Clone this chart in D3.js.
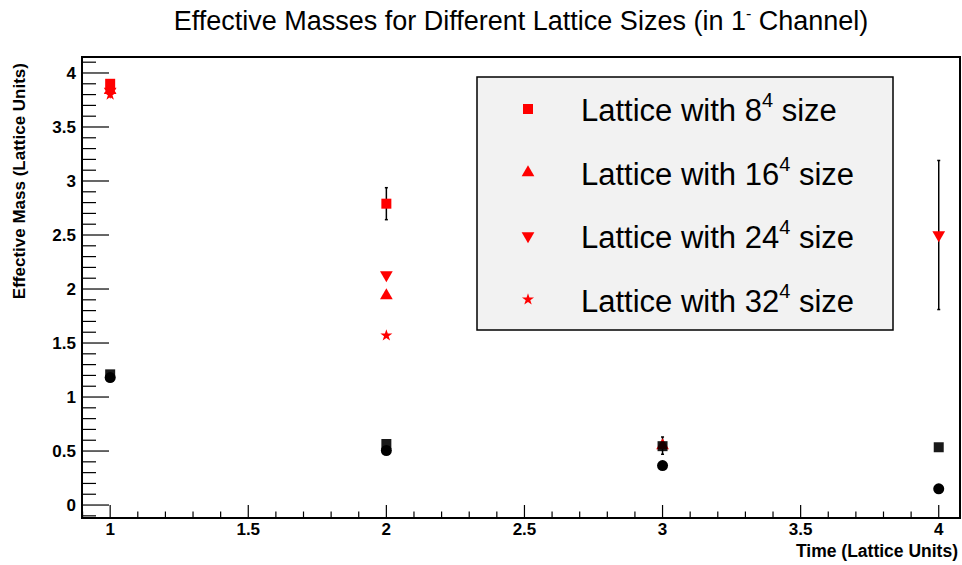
<!DOCTYPE html>
<html><head><meta charset="utf-8">
<script src="https://cdn.jsdelivr.net/npm/d3@7"></script>
<style>body{margin:0;background:#fff}svg{display:block}text{font-family:"Liberation Sans",Arial,sans-serif}</style>
</head><body><svg id="c" width="962" height="565"></svg>
<script>
const times = [1, 2, 3, 4];
const legendLabels = ["8", "16", "24", "32"];
const xTicks = [1, 1.5, 2, 2.5, 3, 3.5, 4];
const yTicks = [0, 0.5, 1, 1.5, 2, 2.5, 3, 3.5, 4];
// red series (null = not shown)
const mass8  = [3.90, 2.79, null, null];
const err8   = [0, 0.148, 0, 0];
const mass16 = [3.84, 1.94, 0.55, null];
const err16  = [0, 0, 0.08, 0];
const mass24 = [3.83, 2.13, null, 2.50];
const err24  = [0, 0, 0, 0.69];
const mass32 = [3.80, 1.57, null, null];
const err32  = [0, 0, 0, 0];
// black series
const blackSq  = [1.21, 0.565, 0.545, 0.535];
const blackCir = [1.18, 0.505, 0.365, 0.15];

const svg = d3.select("#c");
const L = 82, R = 960, T = 57, B = 518;
const x = d3.scaleLinear().domain([0.898, 4.077]).range([L, R]);
const y = d3.scaleLinear().domain([-0.12, 4.148]).range([B, T]);

// frame
svg.append("rect").attr("x", L).attr("y", T).attr("width", R - L).attr("height", B - T)
  .attr("fill", "none").attr("stroke", "#000").attr("stroke-width", 2);

// y ticks
const yMinor = d3.range(-1, 42).map(i => i / 10).filter(v => v >= -0.12 && v <= 4.148);
svg.append("g").selectAll("line").data(yMinor).join("line")
  .attr("x1", L).attr("x2", d => L + (Math.abs(d * 2 - Math.round(d * 2)) < 1e-6 ? 27 : 14))
  .attr("y1", d => y(d)).attr("y2", d => y(d)).attr("stroke", "#000").attr("stroke-width", 1.2);
svg.append("g").selectAll("text").data(yTicks).join("text")
  .attr("x", L - 6).attr("y", d => y(d) + 6).attr("text-anchor", "end")
  .attr("font-size", 17).attr("font-weight", "bold").text(d => d);

// x ticks
const xMinor = d3.range(9, 41).map(i => i / 10);
svg.append("g").selectAll("line").data(xMinor).join("line")
  .attr("x1", d => x(d)).attr("x2", d => x(d))
  .attr("y1", B).attr("y2", d => B - (Math.abs(d * 2 - Math.round(d * 2)) < 1e-6 ? 13 : 6.5))
  .attr("stroke", "#000").attr("stroke-width", 1.2);
svg.append("g").selectAll("text").data(xTicks).join("text")
  .attr("x", d => x(d)).attr("y", 535).attr("text-anchor", "middle")
  .attr("font-size", 17).attr("font-weight", "bold").text(d => d);

// axis titles
svg.append("text").attr("x", 958).attr("y", 557).attr("text-anchor", "end")
  .attr("font-size", 17.5).attr("font-weight", "bold").text("Time (Lattice Units)");
svg.append("text").attr("transform", "translate(25,63) rotate(-90)").attr("text-anchor", "end")
  .attr("font-size", 17).attr("font-weight", "bold").text("Effective Mass (Lattice Units)");

// title
const title = svg.append("text").attr("x", 521).attr("y", 30).attr("text-anchor", "middle").attr("font-size", 27);
title.append("tspan").text("Effective Masses for Different Lattice Sizes (in 1");
title.append("tspan").attr("dy", -11).attr("font-size", 16).text("-");
title.append("tspan").attr("dy", 11).text(" Channel)");

const sym = {
  square: d3.symbol().type(d3.symbolSquare).size(100),
  up: d3.symbol().type(d3.symbolTriangle).size(70),
  down: d3.symbol().type(d3.symbolTriangle).size(70),
  star: d3.symbol().type(d3.symbolStar).size(45),
  circle: d3.symbol().type(d3.symbolCircle).size(95)
};

function series(vals, errs, shape, color, opacity) {
  const pts = times.map((t, i) => ({ t, v: vals[i], e: errs ? errs[i] : 0 })).filter(d => d.v !== null);
  const g = svg.append("g");
  pts.filter(d => d.e > 0).forEach(d => {
    g.append("line").attr("x1", x(d.t)).attr("x2", x(d.t)).attr("y1", y(d.v - d.e)).attr("y2", y(d.v + d.e))
      .attr("stroke", "#000").attr("stroke-width", 1.5);
    [d.v - d.e, d.v + d.e].forEach(v => g.append("line").attr("x1", x(d.t) - 1.5).attr("x2", x(d.t) + 1.5)
      .attr("y1", y(v)).attr("y2", y(v)).attr("stroke", "#000").attr("stroke-width", 1.5));
  });
  g.selectAll("path").data(pts).join("path")
    .attr("d", sym[shape]).attr("fill", color).attr("fill-opacity", opacity || 1)
    .attr("transform", d => `translate(${x(d.t)},${y(d.v)})${shape === "down" ? " rotate(180)" : ""}`);
}

series(blackCir, null, "circle", "#000");
series(mass8, err8, "square", "#ff0000");
series(mass24, err24, "down", "#ff0000");
series(mass32, err32, "star", "#ff0000");
series(mass16, err16, "up", "#ff0000");
series(blackSq, null, "square", "#000", 0.9);

// legend
const lg = svg.append("g");
lg.append("rect").attr("x", 477).attr("y", 77).attr("width", 416).attr("height", 253)
  .attr("fill", "#f2f2f2").attr("stroke", "#000").attr("stroke-width", 1.5);
const shapes = ["square", "up", "down", "star"];
legendLabels.forEach((lab, i) => {
  const cy = 109 + i * 63.5;
  lg.append("path").attr("d", sym[shapes[i]]).attr("fill", "#ff0000")
    .attr("transform", `translate(528,${cy})${shapes[i] === "down" ? " rotate(180)" : ""}`);
  const t = lg.append("text").attr("x", 581).attr("y", cy + 12).attr("font-size", 31);
  t.append("tspan").text("Lattice with " + lab);
  t.append("tspan").attr("dy", -14).attr("font-size", 20).text("4");
  t.append("tspan").attr("dy", 14).text(" size");
});
</script></body></html>
